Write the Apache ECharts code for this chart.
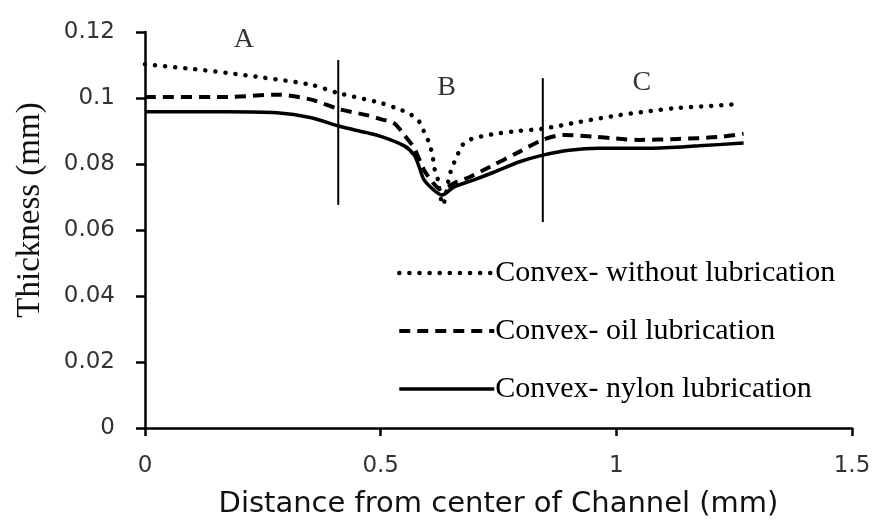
<!DOCTYPE html>
<html>
<head>
<meta charset="utf-8">
<title>Thickness</title>
<script src="https://cdn.jsdelivr.net/npm/echarts@6/dist/echarts.min.js"></script>
<style>
  html, body { margin: 0; padding: 0; background: #fff; }
  #chart { width: 873px; height: 524px; }
</style>
</head>
<body>
<div id="chart"></div>
<script>
// Convex- without lubrication (dotted)
var dryX = [0, 0.1, 0.175, 0.25, 0.353, 0.41, 0.5, 0.543, 0.564, 0.582, 0.592, 0.603, 0.61, 0.613, 0.62, 0.632, 0.645, 0.652, 0.662, 0.67, 0.688, 0.712, 0.75, 0.79, 0.844, 0.92, 1.005, 1.07, 1.13, 1.2, 1.26]
var dryY = [0.1102, 0.1088, 0.1076, 0.1062, 0.104, 0.1015, 0.0985, 0.0964, 0.095, 0.0928, 0.0898, 0.0863, 0.0827, 0.0792, 0.0762, 0.0676, 0.0758, 0.0792, 0.0822, 0.0852, 0.0873, 0.0883, 0.0893, 0.09, 0.0907, 0.0927, 0.0948, 0.096, 0.097, 0.0976, 0.0982]
// Convex- oil lubrication (dashed)
var oilX = [0, 0.175, 0.28, 0.353, 0.41, 0.47, 0.5, 0.528, 0.55, 0.571, 0.592, 0.61, 0.624, 0.64, 0.66, 0.688, 0.73, 0.793, 0.844, 0.889, 0.95, 1.0, 1.048, 1.13, 1.217, 1.27]
var oilY = [0.1003, 0.1003, 0.101, 0.0995, 0.0967, 0.0948, 0.0936, 0.0924, 0.0888, 0.0848, 0.0782, 0.0745, 0.0727, 0.073, 0.0745, 0.076, 0.079, 0.0836, 0.0873, 0.0888, 0.0883, 0.0877, 0.0873, 0.0876, 0.0882, 0.0892]
// Convex- nylon lubrication (solid)
var nylonX = [0, 0.175, 0.28, 0.353, 0.41, 0.47, 0.5, 0.55, 0.571, 0.582, 0.592, 0.613, 0.63, 0.655, 0.698, 0.74, 0.793, 0.844, 0.9, 0.963, 1.07, 1.175, 1.27]
var nylonY = [0.0958, 0.0958, 0.0955, 0.094, 0.0915, 0.0895, 0.0884, 0.0855, 0.0827, 0.079, 0.0752, 0.0721, 0.0706, 0.073, 0.0752, 0.0775, 0.0806, 0.0827, 0.0842, 0.0848, 0.0848, 0.0855, 0.0864]

var seriesNames = ['Convex- without lubrication', 'Convex- oil lubrication', 'Convex- nylon lubrication']

// region separators and labels
var dividerX = [0.41, 0.844]
var dividerTop = [0.1115, 0.106]
var dividerBottom = [0.0676, 0.0624]
var regionNames = ['A', 'B', 'C']
var regionX = [0.21, 0.64, 1.054]
var regionY = [0.1176, 0.103, 0.1048]

var xTicks = ['0', '0.5', '1', '1.5']
var yTicks = ['0', '0.02', '0.04', '0.06', '0.08', '0.1', '0.12']

function pairs(xs, ys) {
  return xs.map(function(x, i) { return [x, ys[i]] })
}

var chart = echarts.init(document.getElementById('chart'))

var serifFont = '"Liberation Serif", "Times New Roman", serif'
var sansFont = '"DejaVu Sans", sans-serif'

var dotStyle = { color: '#000', width: 4.5, type: [0.1, 10], cap: 'round' }
var dashStyle = { color: '#000', width: 4, type: [11, 7] }
var solidStyle = { color: '#000', width: 3.5 }

var series = [{
  name: seriesNames[0],
  type: 'line',
  symbol: 'none',
  smooth: 0.3,
  lineStyle: dotStyle,
  data: pairs(dryX, dryY)
}, {
  name: seriesNames[1],
  type: 'line',
  symbol: 'none',
  smooth: 0.3,
  lineStyle: dashStyle,
  data: pairs(oilX, oilY)
}, {
  name: seriesNames[2],
  type: 'line',
  symbol: 'none',
  smooth: 0.3,
  lineStyle: solidStyle,
  data: pairs(nylonX, nylonY)
}]

dividerX.forEach(function(x, i) {
  series.push({
    type: 'line',
    symbol: 'none',
    silent: true,
    lineStyle: { color: '#000', width: 2 },
    data: [[x, dividerTop[i]], [x, dividerBottom[i]]]
  })
})

series.push({
  type: 'scatter',
  symbolSize: 0,
  silent: true,
  label: {
    show: true,
    position: 'inside',
    formatter: function(p) { return regionNames[p.dataIndex] },
    fontFamily: serifFont,
    fontSize: 28,
    color: '#000'
  },
  data: pairs(regionX, regionY)
})

chart.setOption({
  animation: false,
  backgroundColor: '#fff',
  grid: {
    left: 145,
    right: 21,
    top: 32,
    bottom: 96,
    containLabel: false,
    outerBoundsMode: 'none'
  },
  legend: {
    orient: 'vertical',
    left: 392,
    top: 251,
    itemWidth: 95,
    itemHeight: 14,
    itemGap: 24,
    itemStyle: { opacity: 0 },
    data: [
      { name: seriesNames[0], lineStyle: dotStyle },
      { name: seriesNames[1], lineStyle: dashStyle },
      { name: seriesNames[2], lineStyle: solidStyle }
    ],
    textStyle: {
      fontFamily: serifFont,
      fontSize: 30,
      lineHeight: 34,
      color: '#000',
      padding: [0, 0, 0, -4]
    }
  },
  xAxis: {
    type: 'value',
    min: 0,
    max: 1.5,
    interval: 0.5,
    name: 'Distance from center of Channel (mm)',
    nameLocation: 'middle',
    nameGap: 62,
    nameTextStyle: { fontFamily: sansFont, fontSize: 29, color: '#111' },
    axisLine: { show: true, lineStyle: { color: '#000', width: 2.5 } },
    axisTick: { show: true, length: 8, lineStyle: { color: '#000', width: 2.5 } },
    axisLabel: {
      margin: 27,
      fontFamily: sansFont,
      fontSize: 23,
      color: '#333',
      formatter: function(v) { return xTicks[Math.round(v / 0.5)] }
    },
    splitLine: { show: false }
  },
  yAxis: {
    type: 'value',
    min: 0,
    max: 0.12,
    interval: 0.02,
    axisLine: { show: true, lineStyle: { color: '#000', width: 2.5 } },
    axisTick: { show: true, length: 9, lineStyle: { color: '#000', width: 2.5 } },
    axisLabel: {
      margin: 30,
      fontFamily: sansFont,
      fontSize: 23,
      color: '#333',
      formatter: function(v) { return yTicks[Math.round(v / 0.02)] }
    },
    splitLine: { show: false }
  },
  graphic: [{
    type: 'text',
    x: 30,
    y: 210,
    rotation: Math.PI / 2,
    style: {
      text: 'Thickness (mm)',
      font: '33px ' + serifFont,
      fill: '#111',
      align: 'center',
      verticalAlign: 'middle',
      textAlign: 'center',
      textVerticalAlign: 'middle'
    }
  }],
  series: series
})
</script>
</body>
</html>
